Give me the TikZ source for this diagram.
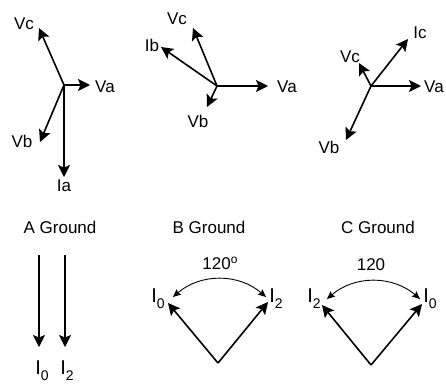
\documentclass[tikz,border=0pt]{standalone}
\usepackage{fontspec}
\setmainfont{Liberation Sans}
\usetikzlibrary{arrows.meta}

\newcommand{\Isub}[1]{{\fontsize{20}{20}\selectfont I}\raisebox{-6pt}{\fontsize{14}{14}\selectfont #1}}

\begin{document}
\begin{tikzpicture}[x=1pt, y=-1pt,
  every node/.style={font=\fontsize{17}{19}\selectfont, inner sep=0pt},
  vec/.style={line width=1.6pt, -{Stealth[length=12pt,width=12pt,inset=2.5pt]}},
  angarc/.style={line width=0.9pt, {Stealth[length=8pt,width=7pt,inset=1.5pt]}-{Stealth[length=8pt,width=7pt,inset=1.5pt]}}]
\useasboundingbox (0,0) rectangle (446,384);

% phasors, A to ground
\coordinate (oA) at (64,85);
\coordinate (tVaA) at (90,85);
\coordinate (tVcA) at (39,28);
\coordinate (tVbA) at (40,142);
\coordinate (tIaA) at (64,177);
\node (vaA) at (105,87) {Va};
\node (vcA) at (24,24) {Vc};
\node (vbA) at (22,141) {Vb};
\node (iaA) at (64,186) {Ia};
\draw[vec] (oA) -- (tVaA);
\draw[vec] (oA) -- (tVcA);
\draw[vec] (oA) -- (tVbA);
\draw[vec] (oA) -- (tIaA);

% phasors, B to ground
\coordinate (oB) at (217,86);
\coordinate (tVaB) at (268,86);
\coordinate (tVcB) at (193,28);
\coordinate (tIbB) at (161,47);
\coordinate (tVbB) at (207,107);
\node (vaB) at (287,87) {Va};
\node (vcB) at (177,19) {Vc};
\node (ibB) at (152,45) {Ib};
\node (vbB) at (198,121) {Vb};
\draw[vec] (oB) -- (tVaB);
\draw[vec] (oB) -- (tVcB);
\draw[vec] (oB) -- (tIbB);
\draw[vec] (oB) -- (tVbB);

% phasors, C to ground
\coordinate (oC) at (371,86);
\coordinate (tVaC) at (421,86);
\coordinate (tIcC) at (408,39);
\coordinate (tVcC) at (359,63);
\coordinate (tVbC) at (346,140);
\node (vaC) at (434,87) {Va};
\node (icC) at (420,33) {Ic};
\node (vcC) at (350,57) {Vc};
\node (vbC) at (329,147) {Vb};
\draw[vec] (oC) -- (tVaC);
\draw[vec] (oC) -- (tIcC);
\draw[vec] (oC) -- (tVcC);
\draw[vec] (oC) -- (tVbC);

% sequence currents, A ground
\node (gndA) at (60,227) {A Ground};
\coordinate (sI0A) at (39,255);
\coordinate (tI0A) at (39,347);
\coordinate (sI2A) at (65,255);
\coordinate (tI2A) at (65,347);
\node (i0A) at (42,371) {\Isub{0}};
\node (i2A) at (67,371) {\Isub{2}};
\draw[vec] (sI0A) -- (tI0A);
\draw[vec] (sI2A) -- (tI2A);

% sequence currents, B ground
\node (gndB) at (209,227) {B Ground};
\coordinate (oSB) at (218,363);
\coordinate (tI0B) at (168,303);
\coordinate (tI2B) at (268,302);
\node (i0B) at (158,299) {\Isub{0}};
\node (i2B) at (276,299) {\Isub{2}};
\coordinate (a0B) at (173,297);
\coordinate (a2B) at (266,297);
\node (angB) at (220,263) {120\raisebox{6pt}{\fontsize{12}{12}\selectfont o}};
\draw[vec] (oSB) -- (tI0B);
\draw[vec] (oSB) -- (tI2B);
\draw[angarc] (a0B) to[bend left=41] (a2B);

% sequence currents, C ground
\node (gndC) at (378,227) {C Ground};
\coordinate (oSC) at (371,365);
\coordinate (tI2C) at (322,305);
\coordinate (tI0C) at (422,304);
\node (i2C) at (314,299) {\Isub{2}};
\node (i0C) at (430,299) {\Isub{0}};
\coordinate (a2C) at (327,299);
\coordinate (a0C) at (420,299);
\node (angC) at (371,265) {120};
\draw[vec] (oSC) -- (tI2C);
\draw[vec] (oSC) -- (tI0C);
\draw[angarc] (a2C) to[bend left=41] (a0C);
\end{tikzpicture}
\end{document}
